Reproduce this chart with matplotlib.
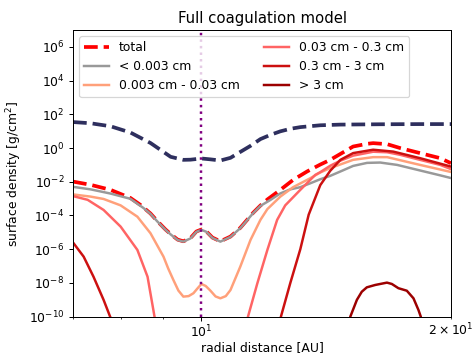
import numpy as np
import matplotlib
matplotlib.use("Agg")
import matplotlib.pyplot as plt
from matplotlib.ticker import NullLocator

# ---- data (radial distance in AU, log10 surface density in g/cm^2) ----
gas_r = [7.0, 7.35, 7.77, 8.21, 8.68, 9.18, 9.51, 9.70, 10.0, 10.25, 10.54, 10.84,
         11.14, 11.46, 11.78, 12.11, 12.45, 12.80, 13.16, 13.91, 14.71, 16.43, 18.35, 20.0]
gas_log = [1.54, 1.47, 1.29, 0.92, 0.30, -0.52, -0.70, -0.69, -0.62, -0.67, -0.74, -0.58,
           -0.23, 0.13, 0.53, 0.78, 0.99, 1.14, 1.24, 1.35, 1.39, 1.41, 1.42, 1.42]

total_r = [7.0, 7.35, 7.77, 8.21, 8.44, 8.51, 8.68, 8.85, 9.05, 9.18, 9.36, 9.51, 9.70,
           9.86, 10.0, 10.14, 10.31, 10.54, 10.84, 11.14, 11.55, 11.78, 12.01, 12.45,
           12.90, 13.41, 13.91, 14.30, 15.24, 15.84, 16.11, 16.75, 17.36, 18.35, 19.41, 20.0]
total_log = [-1.99, -2.18, -2.48, -2.96, -3.37, -3.52, -3.88, -4.34, -4.83, -5.10, -5.43,
             -5.53, -5.34, -4.95, -4.83, -4.95, -5.31, -5.53, -5.25, -4.73, -3.83, -3.41,
             -3.05, -2.48, -1.89, -1.39, -0.98, -0.70, 0.09, 0.25, 0.29, 0.23, 0.0, -0.30,
             -0.60, -0.90]

small_r = [7.0, 7.35, 7.77, 8.21, 8.51, 8.68, 8.85, 9.05, 9.18, 9.36, 9.51, 9.70, 9.86,
           10.0, 10.14, 10.31, 10.54, 10.84, 11.14, 11.55, 11.78, 12.11, 12.45, 12.80,
           13.16, 13.53, 13.91, 14.30, 14.71, 15.24, 15.84, 16.43, 17.22, 18.35, 19.41, 20.0]
small_log = [-2.30, -2.45, -2.70, -3.01, -3.55, -3.90, -4.36, -4.85, -5.12, -5.45, -5.55,
             -5.36, -4.97, -4.85, -4.97, -5.33, -5.55, -5.27, -4.75, -3.85, -3.43, -3.08,
             -2.69, -2.45, -2.32, -2.09, -1.85, -1.65, -1.39, -1.06, -0.88, -0.86, -1.00,
             -1.33, -1.62, -1.78]

s2_r = [7.0, 7.35, 7.62, 7.99, 8.37, 8.68, 9.00, 9.12, 9.25, 9.38, 9.51, 9.65, 9.78,
        9.90, 10.0, 10.12, 10.25, 10.40, 10.54, 10.70, 10.84, 11.14, 11.46, 11.78, 12.01,
        12.45, 12.90, 13.53, 13.91, 14.30, 15.24, 16.11, 16.75, 18.35, 20.0]
s2_log = [-2.75, -2.88, -3.02, -3.40, -4.07, -5.05, -6.44, -7.15, -7.82, -8.45, -8.81,
          -8.78, -8.61, -8.30, -8.06, -8.18, -8.45, -8.80, -8.91, -8.78, -8.42, -7.03,
          -5.45, -4.26, -3.62, -2.88, -2.32, -1.79, -1.45, -1.19, -0.70, -0.54, -0.54,
          -1.00, -1.42]

s3_r = [7.0, 7.29, 7.62, 7.99, 8.37, 8.61, 8.75, 8.80, np.nan,
        11.35, 11.68, 12.01, 12.34, 12.62, 13.16, 13.72, 13.91, 14.30, 14.71, 15.24,
        16.11, 16.75, 17.36, 18.35, 19.41, 20.0]
s3_log = [-2.85, -3.07, -3.67, -4.66, -6.04, -7.63, -9.60, -10.3, np.nan,
          -10.2, -8.02, -6.04, -4.26, -3.40, -2.48, -1.59, -1.43, -1.05, -0.75, -0.45,
          -0.22, -0.25, -0.40, -0.70, -1.00, -1.25]

s4_r = [7.0, 7.21, 7.41, 7.62, 7.76, 7.85, np.nan,
        12.40, 12.47, 12.80, 13.16, 13.47, 13.91, 14.30, 14.71, 15.24, 16.11, 17.03,
        18.35, 20.0]
s4_log = [-5.60, -6.44, -7.63, -9.00, -10.0, -10.5, np.nan,
          -10.5, -10.0, -8.00, -6.00, -3.95, -2.20, -1.35, -0.70, -0.30, -0.10, -0.21,
          -0.60, -1.10]

s5_r = [15.10, 15.12, 15.40, 15.61, 15.83, 16.20, 16.74, 16.97, 17.28, 17.69, 18.02,
        18.27, 18.39, 18.42]
s5_log = [-10.5, -10.0, -9.0, -8.52, -8.26, -8.12, -7.98, -8.06, -8.31, -8.46, -8.91,
          -9.60, -10.0, -10.5]

labels = ["total", "< 0.003 cm", "0.003 cm - 0.03 cm", "0.03 cm - 0.3 cm",
          "0.3 cm - 3 cm", "> 3 cm"]
colors = ["red", "#999999", "#ffa07a", "#ff6464", "#cc1010", "#9c0000"]
planet_r = 10.0

def lin(v):
    return np.power(10.0, np.array(v, dtype=float))

fig = plt.figure(figsize=(475 / 89, 354 / 89), dpi=89)
ax = fig.add_axes([0.1537, 0.1054, 0.7958, 0.8099])

ax.plot(total_r, lin(total_log), color=colors[0], ls="--", lw=3, label=labels[0])
ax.plot(small_r, lin(small_log), color=colors[1], lw=2, label=labels[1])
ax.plot(s2_r, lin(s2_log), color=colors[2], lw=2, label=labels[2])
ax.plot(s3_r, lin(s3_log), color=colors[3], lw=2, label=labels[3])
ax.plot(s4_r, lin(s4_log), color=colors[4], lw=2, label=labels[4])
ax.plot(s5_r, lin(s5_log), color=colors[5], lw=2, label=labels[5])
ax.plot(gas_r, lin(gas_log), color="#2e2f5e", ls="--", lw=3)
ax.axvline(planet_r, color="purple", ls=":", lw=2)

ax.set_xscale("log")
ax.set_yscale("log")
ax.set_xlim(7, 20)
ax.set_ylim(1e-10, 1e7)
ax.set_yticks([10.0 ** k for k in range(-10, 7, 2)])
ax.yaxis.set_minor_locator(NullLocator())
ax.tick_params(axis="x", which="both", pad=2)

ax.set_xlabel("radial distance [AU]", fontsize=10, labelpad=1)
ax.set_ylabel("surface density [g/cm$^2$]", fontsize=10)
ax.set_title("Full coagulation model", fontsize=12)
ax.legend(loc="upper left", ncol=2, fontsize=10)

fig.savefig("out.png", dpi=89)
